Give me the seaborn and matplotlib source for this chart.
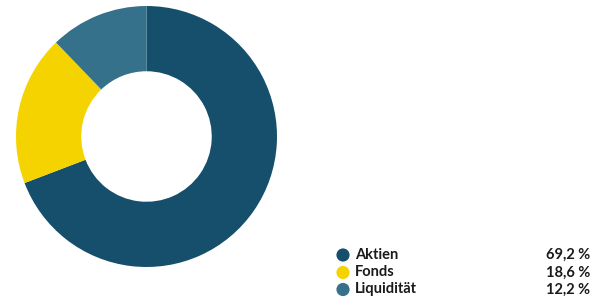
import matplotlib
matplotlib.use("Agg")
import matplotlib.pyplot as plt
import seaborn as sns

# Portfolio split
categories = ["Aktien", "Fonds", "Liquidität"]
shares = [69.2, 18.6, 12.2]
share_labels = ["69,2 %", "18,6 %", "12,2 %"]
colors = ["#154f6b", "#f5d300", "#36718b"]

sns.set_theme(style="white")
plt.rcParams["font.family"] = ["Lato", "DejaVu Sans"]

fig = plt.figure(figsize=(5.99, 2.97), dpi=100)
fig.patch.set_facecolor("white")

# Donut
ax = fig.add_axes([16 / 599, (297 - 136.5 - 130.5) / 297, 261 / 599, 261 / 297])
ax.pie(shares, colors=colors, startangle=90, counterclock=False,
       wedgeprops=dict(width=0.5, linewidth=0))
ax.set_xlim(-1, 1)
ax.set_ylim(-1, 1)
ax.set_aspect("equal")
ax.axis("off")

# Legend in pixel coordinates
lax = fig.add_axes([0, 0, 1, 1])
lax.set_xlim(0, 599)
lax.set_ylim(297, 0)
lax.axis("off")
row_y = [255, 272.5, 289.5]
lax.scatter([343] * len(categories), row_y, s=90, c=colors, linewidths=0)
for name, lab, y in zip(categories, share_labels, row_y):
    lax.text(355, y, name, fontsize=10.5, fontweight="bold", color="#1a1a1a",
             va="center", ha="left")
    lax.text(590, y, lab, fontsize=10.5, fontweight="bold", color="#1a1a1a",
             va="center", ha="right")

fig.savefig("out.png", dpi=100, facecolor="white")
